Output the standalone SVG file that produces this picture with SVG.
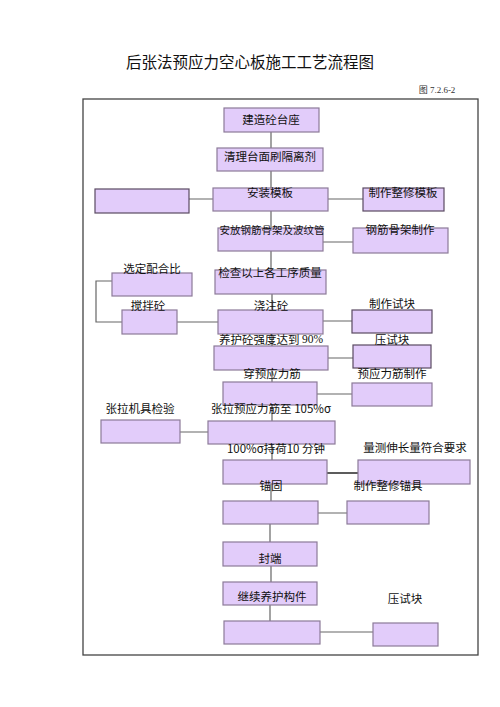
<svg xmlns="http://www.w3.org/2000/svg" width="500" height="707" viewBox="0 0 500 707">
<style>
.b{fill:#e2ccfa;stroke:#8c7a98;stroke-width:1.2}
.d{fill:#e2ccfa;stroke:#5a4a62;stroke-width:1.2}
.t{font-family:"Noto Sans CJK SC","Liberation Sans",sans-serif;font-size:11.5px;fill:#111;text-anchor:middle;dominant-baseline:central}
.c{fill:none;stroke:#666;stroke-width:1.2}
</style>
<rect width="500" height="707" fill="#fff"/>
<text x="250" y="61" style="font-family:'Noto Sans CJK SC','Liberation Sans',sans-serif;font-size:15.5px;fill:#111;text-anchor:middle;dominant-baseline:central">后张法预应力空心板施工工艺流程图</text>
<text x="437" y="90" style="font-family:'Liberation Serif','Noto Sans CJK SC',serif;font-size:9px;fill:#333;text-anchor:middle;dominant-baseline:central">图  7.2.6-2</text>
<rect x="83" y="99" width="395" height="556" fill="none" stroke="#444" stroke-width="1.3"/>
<g id="connectors">
<path class="c" d="M271 132V148M271 171V188M189 199H213M328 199H363M271 211V228M323 242H353M271 251V270M272 294V310M177 322H218M323 321H352M192 281H96V322H122M272 334V346M328 358H353M272 370V382M317 394H352M272 405V421M180 432H208M272 444V460M271 484V501M318 513H347M270 524V542M271 566V582M270 605V621M320 632H373"/>
<path d="M327 473H358" fill="none" stroke="#333" stroke-width="1.6"/>
</g>
<g id="n1"><rect class="b" x="224" y="108" width="95" height="24"/><text class="t" x="271" y="119">建造砼台座</text></g>
<g id="n2"><rect class="b" x="217" y="148" width="106" height="23"/><text class="t" x="270" y="156">清理台面刷隔离剂</text></g>
<g id="n3"><rect class="b" x="213" y="188" width="115" height="23"/><text class="t" x="270" y="192">安装模板</text></g>
<g id="n4"><rect class="d" x="95" y="189" width="94" height="24"/></g>
<g id="n5"><rect class="d" x="363" y="188" width="81" height="23"/><text class="t" x="403" y="192">制作整修模板</text></g>
<g id="n6"><rect class="b" x="218" y="228" width="105" height="23"/><text class="t" x="272" y="229" style="font-size:10.5px">安放钢筋骨架及波纹管</text></g>
<g id="n7"><rect class="b" x="353" y="228" width="95" height="25"/><text class="t" x="400" y="229">钢筋骨架制作</text></g>
<g id="n8"><rect class="b" x="215" y="270" width="111" height="24"/><text class="t" x="270" y="272">检查以上各工序质量</text></g>
<g id="n9"><rect class="b" x="112" y="273" width="80" height="23"/><text class="t" x="152" y="268">选定配合比</text></g>
<g id="n10"><rect class="b" x="122" y="310" width="55" height="24"/><text class="t" x="148" y="305">搅拌砼</text></g>
<g id="n11"><rect class="b" x="218" y="310" width="105" height="24"/><text class="t" x="271" y="305">浇注砼</text></g>
<g id="n12"><rect class="d" x="352" y="310" width="80" height="23"/><text class="t" x="392" y="303">制作试块</text></g>
<g id="n13"><rect class="b" x="214" y="346" width="114" height="24"/><text class="t" x="271" y="339">养护砼强度达到 <tspan style="font-family:'Liberation Serif',serif">90%</tspan></text></g>
<g id="n14"><rect class="d" x="353" y="345" width="78" height="23"/><text class="t" x="392" y="339">压试块</text></g>
<g id="n15"><rect class="b" x="223" y="382" width="94" height="23"/><text class="t" x="272" y="373">穿预应力筋</text></g>
<g id="n16"><rect class="b" x="352" y="383" width="80" height="23"/><text class="t" x="392" y="373">预应力筋制作</text></g>
<g id="n17"><rect class="b" x="208" y="421" width="127" height="23"/><text class="t" x="271" y="408">张拉预应力筋至 105%σ</text></g>
<g id="n18"><rect class="b" x="101" y="420" width="79" height="23"/><text class="t" x="140" y="408">张拉机具检验</text></g>
<g id="n19"><rect class="b" x="223" y="460" width="104" height="24"/><text class="t" x="276" y="448">100%σ持荷10 分钟</text></g>
<g id="n20"><rect class="b" x="358" y="460" width="112" height="24"/><text class="t" x="415" y="447">量测伸长量符合要求</text></g>
<g id="n21"><rect class="b" x="223" y="501" width="95" height="23"/><text class="t" x="271" y="485">锚固</text></g>
<g id="n22"><rect class="b" x="347" y="501" width="82" height="23"/><text class="t" x="388" y="485">制作整修锚具</text></g>
<g id="n23"><rect class="b" x="223" y="542" width="94" height="24"/><text class="t" x="270" y="558">封端</text></g>
<g id="n24"><rect class="b" x="223" y="582" width="94" height="23"/><text class="t" x="272" y="596">继续养护构件</text></g>
<g id="n25"><text class="t" x="405" y="598">压试块</text></g>
<g id="n26"><rect class="b" x="224" y="621" width="96" height="23"/></g>
<g id="n27"><rect class="b" x="373" y="623" width="65" height="23"/></g>
</svg>
